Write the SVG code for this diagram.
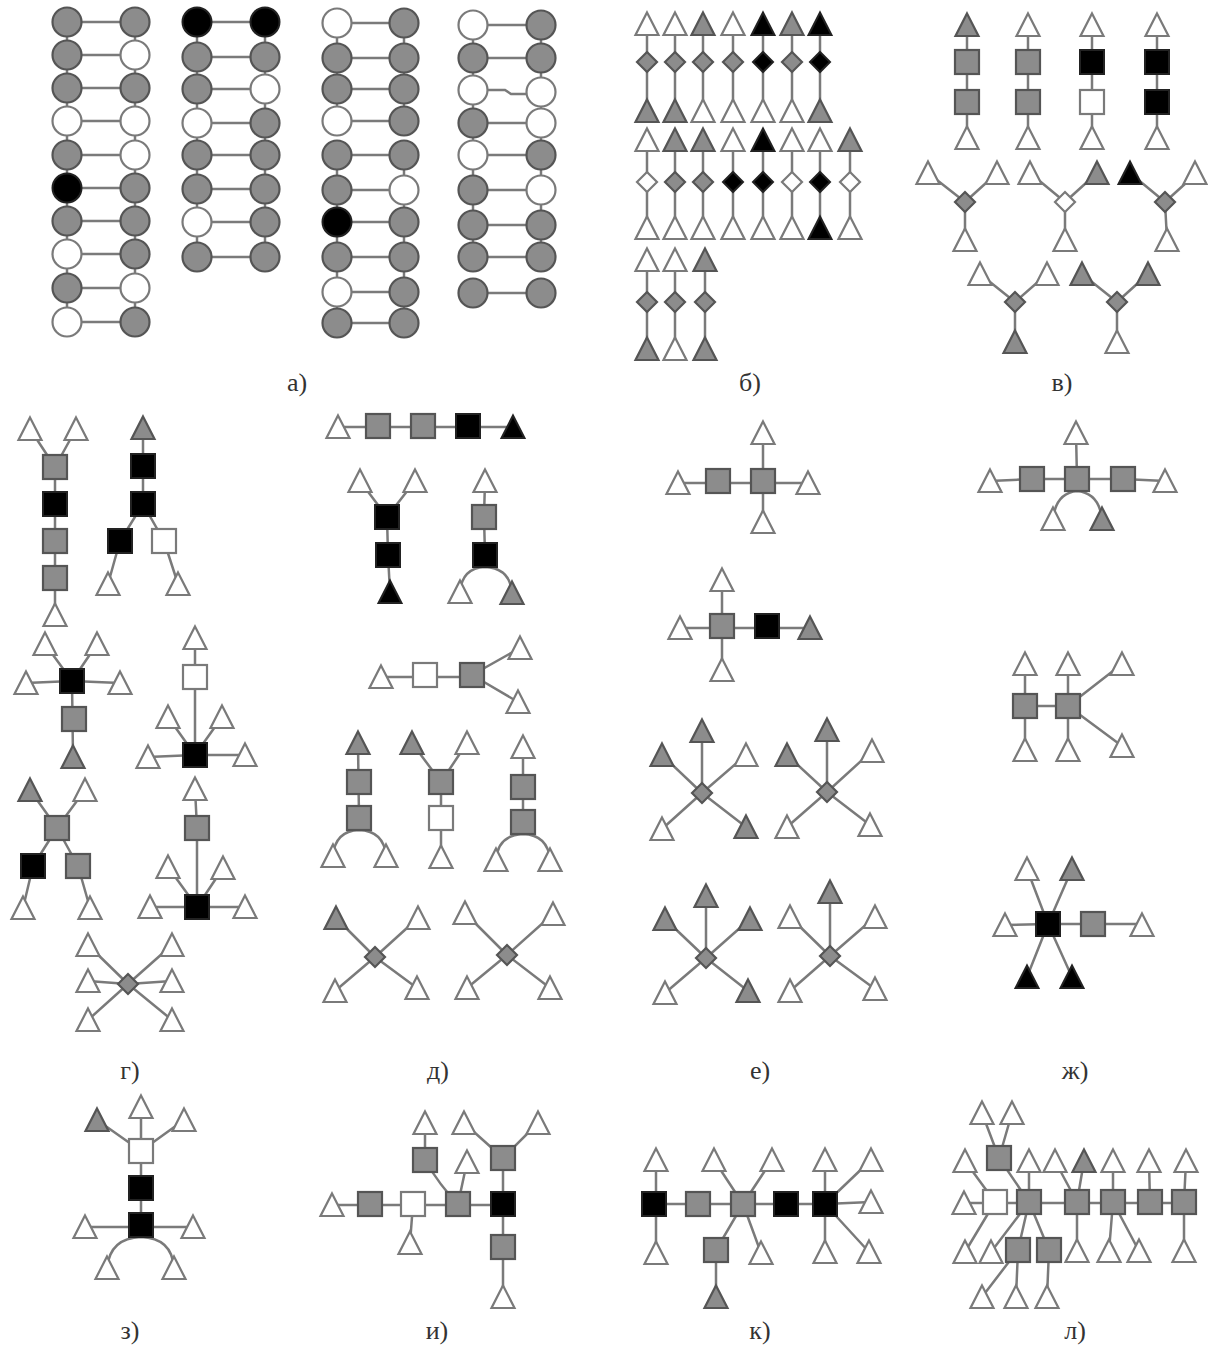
<svg xmlns="http://www.w3.org/2000/svg" xmlns:xlink="http://www.w3.org/1999/xlink" width="1208" height="1348" viewBox="0 0 1208 1348">
<style>
.w{fill:#fff;stroke:#7a7a7a;stroke-width:2.2}
.g{fill:#8c8c8c;stroke:#555;stroke-width:2.2}
.b{fill:#000;stroke:#222;stroke-width:2}
.c path{stroke:#7a7a7a;stroke-width:2.5;fill:none}
.lbl{font-family:"Liberation Serif","Times New Roman",serif;font-size:26px;fill:#333;text-anchor:middle}
</style>
<defs>
<circle id="C" r="14.5"/>
<path id="T" d="M0,-11.5 L11.5,11 L-11.5,11 Z"/>
<rect id="S" x="-12" y="-12" width="24" height="24"/>
<path id="D" d="M0,-10 L10,0 L0,10 L-10,0 Z"/>
</defs>
<rect width="1208" height="1348" fill="#fff"/>

<g id="connectors" class="c">
<!-- a) -->
<path d="M67,22V322"/><path d="M135,22V322"/>
<path d="M67,22H135"/><path d="M67,55H135"/><path d="M67,88H135"/><path d="M67,121H135"/><path d="M67,155H135"/><path d="M67,188H135"/><path d="M67,221H135"/><path d="M67,254H135"/><path d="M67,288H135"/><path d="M67,322H135"/>
<path d="M197,22V257"/><path d="M265,22V257"/>
<path d="M197,22H265"/><path d="M197,57H265"/><path d="M197,89H265"/><path d="M197,123H265"/><path d="M197,155H265"/><path d="M197,189H265"/><path d="M197,222H265"/><path d="M197,257H265"/>
<path d="M337,23V121"/><path d="M404,23V121"/><path d="M337,155V323"/><path d="M404,155V323"/>
<path d="M337,23H404"/><path d="M337,58H404"/><path d="M337,89H404"/><path d="M337,121H404"/><path d="M337,155H404"/><path d="M337,190H404"/><path d="M337,222H404"/><path d="M337,257H404"/><path d="M337,292H404"/><path d="M337,323H404"/>
<path d="M473,25V257"/><path d="M541,25V257"/>
<path d="M473,25H541"/><path d="M473,58H541"/><path d="M473,90H505L511,94H541"/><path d="M473,123H541"/><path d="M473,155H541"/><path d="M473,190H541"/><path d="M473,225H541"/><path d="M473,257H541"/><path d="M473,293H541"/>
<!-- б) -->
<path d="M647,24V111"/><path d="M675,24V111"/><path d="M703,24V111"/><path d="M733,24V111"/><path d="M763,24V111"/><path d="M792,24V111"/><path d="M820,24V111"/>
<path d="M647,140V228"/><path d="M675,140V228"/><path d="M703,140V228"/><path d="M733,140V228"/><path d="M763,140V228"/><path d="M792,140V228"/><path d="M820,140V228"/><path d="M850,140V228"/>
<path d="M647,260V349"/><path d="M675,260V349"/><path d="M705,260V349"/>
<!-- в) -->
<path d="M967,25V138"/><path d="M1028,25V138"/><path d="M1092,25V138"/><path d="M1157,25V138"/>
<path d="M965,202L928,173M965,202L997,173M965,202V240"/>
<path d="M1065,202L1030,173M1065,202L1097,173M1065,202V240"/>
<path d="M1165,202L1130,173M1165,202L1197,173M1165,202L1167,240"/>
<path d="M1015,302L980,274M1015,302L1047,274M1015,302V342"/>
<path d="M1117,302L1082,274M1117,302L1148,274M1117,302V342"/>
<!-- г) -->
<path d="M55,467L30,429M55,467L76,429M55,467V615"/>
<path d="M143,428V504M143,504L120,541M143,504L164,541M120,541L108,584M164,541L178,584"/>
<path d="M72,681L45,644M72,681L97,644M72,681L26,683M72,681L120,683M72,681L73,757"/>
<path d="M195,638V755M195,755L168,717M195,755L222,717M195,755L148,757M195,755L245,755"/>
<path d="M57,828L30,790M57,828L85,790M57,828L33,866M57,828L78,866M33,866L23,908M78,866L90,908"/>
<path d="M195,789L197,828V907M197,907L168,867M197,907L223,868M197,907L150,907M197,907L245,907"/>
<path d="M128,984L88,945M128,984L88,981M128,984L88,1020M128,984L172,945M128,984L172,981M128,984L172,1020"/>
<!-- д) -->
<path d="M338,427H513"/>
<path d="M387,517L360,481M387,517L415,481M387,517L388,555L390,592"/>
<path d="M485,481L484,517L485,555"/><path d="M460,592Q462,568 485,567Q510,568 512,593"/>
<path d="M381,677H472M472,675L520,648M472,675L518,702"/>
<path d="M358,743L359,818"/><path d="M333,856Q335,831 359,830Q384,831 386,856"/>
<path d="M441,782L412,743M441,782L467,743M441,782V857"/>
<path d="M523,747V822"/><path d="M496,860Q498,835 523,834Q548,835 550,860"/>
<path d="M375,957L336,918M375,957L418,918M375,957L335,991M375,957L417,988"/>
<path d="M507,955L465,913M507,955L553,914M507,955L467,988M507,955L550,988"/>
<!-- е) -->
<path d="M678,483H808M763,433V522"/>
<path d="M722,580V670M680,628H810"/>
<path d="M702,793V731M702,793L662,755M702,793L746,755M702,793L662,829M702,793L746,827"/>
<path d="M827,792V730M827,792L787,755M827,792L872,751M827,792L787,827M827,792L870,825"/>
<path d="M706,958V896M706,958L665,919M706,958L750,919M706,958L665,993M706,958L748,991"/>
<path d="M830,956V892M830,956L790,917M830,956L875,917M830,956L790,991M830,956L875,989"/>
<!-- ж) -->
<path d="M990,481L1032,479H1123L1165,481M1077,479L1076,433"/><path d="M1053,519Q1056,493 1077,491Q1099,493 1102,519"/>
<path d="M1025,664V750M1068,664V750M1025,706H1068M1068,706L1122,664M1068,706L1122,746"/>
<path d="M1005,925L1048,924H1142M1048,924L1027,869M1048,924L1072,869M1048,924L1027,977M1048,924L1072,977"/>
<!-- з) -->
<path d="M141,1151L97,1120M141,1151V1107M141,1151L184,1120M141,1151V1225M85,1227H193"/><path d="M107,1268Q110,1238 141,1237Q172,1238 174,1268"/>
<!-- и) -->
<path d="M332,1205H503M413,1204L410,1243M425,1160V1123M458,1204L467,1162M503,1158V1297M503,1158L464,1123M503,1158L538,1123"/><path d="M425,1160Q440,1186 458,1204"/>
<!-- к) -->
<path d="M654,1204H825M656,1160V1253M743,1204L714,1160M743,1204L772,1160M743,1204L716,1250V1297M743,1204L761,1253M825,1160V1252M825,1204L871,1160M825,1204L871,1202M825,1204L869,1252"/>
<!-- л) -->
<path d="M999,1158L982,1113M999,1158L1012,1113M999,1158L1029,1202"/>
<path d="M965,1161L995,1202M964,1203H1184M995,1202L965,1252"/>
<path d="M1029,1202V1161M1029,1202L991,1252M1029,1202L1018,1250M1029,1202L1049,1250M1018,1250L982,1297M1018,1250L1016,1297M1049,1250L1047,1297"/>
<path d="M1077,1202L1055,1161M1077,1202L1084,1161M1077,1202V1251M1113,1202V1161M1113,1202L1109,1251M1113,1202L1139,1251M1150,1202L1149,1161M1184,1202L1186,1161M1184,1202V1251"/>
</g>

<g id="panel-a">
<g id="a1-1L" class="g"><use href="#C" x="67" y="22"/></g><g id="a1-1R" class="g"><use href="#C" x="135" y="22"/></g>
<g id="a1-2L" class="g"><use href="#C" x="67" y="55"/></g><g id="a1-2R" class="w"><use href="#C" x="135" y="55"/></g>
<g id="a1-3L" class="g"><use href="#C" x="67" y="88"/></g><g id="a1-3R" class="g"><use href="#C" x="135" y="88"/></g>
<g id="a1-4L" class="w"><use href="#C" x="67" y="121"/></g><g id="a1-4R" class="w"><use href="#C" x="135" y="121"/></g>
<g id="a1-5L" class="g"><use href="#C" x="67" y="155"/></g><g id="a1-5R" class="w"><use href="#C" x="135" y="155"/></g>
<g id="a1-6L" class="b"><use href="#C" x="67" y="188"/></g><g id="a1-6R" class="g"><use href="#C" x="135" y="188"/></g>
<g id="a1-7L" class="g"><use href="#C" x="67" y="221"/></g><g id="a1-7R" class="g"><use href="#C" x="135" y="221"/></g>
<g id="a1-8L" class="w"><use href="#C" x="67" y="254"/></g><g id="a1-8R" class="g"><use href="#C" x="135" y="254"/></g>
<g id="a1-9L" class="g"><use href="#C" x="67" y="288"/></g><g id="a1-9R" class="w"><use href="#C" x="135" y="288"/></g>
<g id="a1-10L" class="w"><use href="#C" x="67" y="322"/></g><g id="a1-10R" class="g"><use href="#C" x="135" y="322"/></g>

<g id="a2-1L" class="b"><use href="#C" x="197" y="22"/></g><g id="a2-1R" class="b"><use href="#C" x="265" y="22"/></g>
<g id="a2-2L" class="g"><use href="#C" x="197" y="57"/></g><g id="a2-2R" class="g"><use href="#C" x="265" y="57"/></g>
<g id="a2-3L" class="g"><use href="#C" x="197" y="89"/></g><g id="a2-3R" class="w"><use href="#C" x="265" y="89"/></g>
<g id="a2-4L" class="w"><use href="#C" x="197" y="123"/></g><g id="a2-4R" class="g"><use href="#C" x="265" y="123"/></g>
<g id="a2-5L" class="g"><use href="#C" x="197" y="155"/></g><g id="a2-5R" class="g"><use href="#C" x="265" y="155"/></g>
<g id="a2-6L" class="g"><use href="#C" x="197" y="189"/></g><g id="a2-6R" class="g"><use href="#C" x="265" y="189"/></g>
<g id="a2-7L" class="w"><use href="#C" x="197" y="222"/></g><g id="a2-7R" class="g"><use href="#C" x="265" y="222"/></g>
<g id="a2-8L" class="g"><use href="#C" x="197" y="257"/></g><g id="a2-8R" class="g"><use href="#C" x="265" y="257"/></g>

<g id="a3-1L" class="w"><use href="#C" x="337" y="23"/></g><g id="a3-1R" class="g"><use href="#C" x="404" y="23"/></g>
<g id="a3-2L" class="g"><use href="#C" x="337" y="58"/></g><g id="a3-2R" class="g"><use href="#C" x="404" y="58"/></g>
<g id="a3-3L" class="g"><use href="#C" x="337" y="89"/></g><g id="a3-3R" class="g"><use href="#C" x="404" y="89"/></g>
<g id="a3-4L" class="w"><use href="#C" x="337" y="121"/></g><g id="a3-4R" class="g"><use href="#C" x="404" y="121"/></g>
<g id="a3-5L" class="g"><use href="#C" x="337" y="155"/></g><g id="a3-5R" class="g"><use href="#C" x="404" y="155"/></g>
<g id="a3-6L" class="g"><use href="#C" x="337" y="190"/></g><g id="a3-6R" class="w"><use href="#C" x="404" y="190"/></g>
<g id="a3-7L" class="b"><use href="#C" x="337" y="222"/></g><g id="a3-7R" class="g"><use href="#C" x="404" y="222"/></g>
<g id="a3-8L" class="g"><use href="#C" x="337" y="257"/></g><g id="a3-8R" class="g"><use href="#C" x="404" y="257"/></g>
<g id="a3-9L" class="w"><use href="#C" x="337" y="292"/></g><g id="a3-9R" class="g"><use href="#C" x="404" y="292"/></g>
<g id="a3-10L" class="g"><use href="#C" x="337" y="323"/></g><g id="a3-10R" class="g"><use href="#C" x="404" y="323"/></g>

<g id="a4-1L" class="w"><use href="#C" x="473" y="25"/></g><g id="a4-1R" class="g"><use href="#C" x="541" y="25"/></g>
<g id="a4-2L" class="g"><use href="#C" x="473" y="58"/></g><g id="a4-2R" class="g"><use href="#C" x="541" y="58"/></g>
<g id="a4-3L" class="w"><use href="#C" x="473" y="90"/></g><g id="a4-3R" class="w"><use href="#C" x="541" y="92"/></g>
<g id="a4-4L" class="g"><use href="#C" x="473" y="123"/></g><g id="a4-4R" class="w"><use href="#C" x="541" y="123"/></g>
<g id="a4-5L" class="w"><use href="#C" x="473" y="155"/></g><g id="a4-5R" class="g"><use href="#C" x="541" y="155"/></g>
<g id="a4-6L" class="g"><use href="#C" x="473" y="190"/></g><g id="a4-6R" class="w"><use href="#C" x="541" y="190"/></g>
<g id="a4-7L" class="g"><use href="#C" x="473" y="225"/></g><g id="a4-7R" class="g"><use href="#C" x="541" y="225"/></g>
<g id="a4-8L" class="g"><use href="#C" x="473" y="257"/></g><g id="a4-8R" class="g"><use href="#C" x="541" y="257"/></g>
<g id="a4-9L" class="g"><use href="#C" x="473" y="293"/></g><g id="a4-9R" class="g"><use href="#C" x="541" y="293"/></g>
</g>

<g id="panel-b">
<g id="b1-1t" class="w"><use href="#T" x="647" y="24"/></g><g id="b1-1d" class="g"><use href="#D" x="647" y="62"/></g><g id="b1-1b" class="g"><use href="#T" x="647" y="111"/></g>
<g id="b1-2t" class="w"><use href="#T" x="675" y="24"/></g><g id="b1-2d" class="g"><use href="#D" x="675" y="62"/></g><g id="b1-2b" class="g"><use href="#T" x="675" y="111"/></g>
<g id="b1-3t" class="g"><use href="#T" x="703" y="24"/></g><g id="b1-3d" class="g"><use href="#D" x="703" y="62"/></g><g id="b1-3b" class="w"><use href="#T" x="703" y="111"/></g>
<g id="b1-4t" class="w"><use href="#T" x="733" y="24"/></g><g id="b1-4d" class="g"><use href="#D" x="733" y="62"/></g><g id="b1-4b" class="w"><use href="#T" x="733" y="111"/></g>
<g id="b1-5t" class="b"><use href="#T" x="763" y="24"/></g><g id="b1-5d" class="b"><use href="#D" x="763" y="62"/></g><g id="b1-5b" class="w"><use href="#T" x="763" y="111"/></g>
<g id="b1-6t" class="g"><use href="#T" x="792" y="24"/></g><g id="b1-6d" class="g"><use href="#D" x="792" y="62"/></g><g id="b1-6b" class="w"><use href="#T" x="792" y="111"/></g>
<g id="b1-7t" class="b"><use href="#T" x="820" y="24"/></g><g id="b1-7d" class="b"><use href="#D" x="820" y="62"/></g><g id="b1-7b" class="g"><use href="#T" x="820" y="111"/></g>

<g id="b2-1t" class="w"><use href="#T" x="647" y="140"/></g><g id="b2-1d" class="w"><use href="#D" x="647" y="182"/></g><g id="b2-1b" class="w"><use href="#T" x="647" y="228"/></g>
<g id="b2-2t" class="g"><use href="#T" x="675" y="140"/></g><g id="b2-2d" class="g"><use href="#D" x="675" y="182"/></g><g id="b2-2b" class="w"><use href="#T" x="675" y="228"/></g>
<g id="b2-3t" class="g"><use href="#T" x="703" y="140"/></g><g id="b2-3d" class="g"><use href="#D" x="703" y="182"/></g><g id="b2-3b" class="w"><use href="#T" x="703" y="228"/></g>
<g id="b2-4t" class="w"><use href="#T" x="733" y="140"/></g><g id="b2-4d" class="b"><use href="#D" x="733" y="182"/></g><g id="b2-4b" class="w"><use href="#T" x="733" y="228"/></g>
<g id="b2-5t" class="b"><use href="#T" x="763" y="140"/></g><g id="b2-5d" class="b"><use href="#D" x="763" y="182"/></g><g id="b2-5b" class="w"><use href="#T" x="763" y="228"/></g>
<g id="b2-6t" class="w"><use href="#T" x="792" y="140"/></g><g id="b2-6d" class="w"><use href="#D" x="792" y="182"/></g><g id="b2-6b" class="w"><use href="#T" x="792" y="228"/></g>
<g id="b2-7t" class="w"><use href="#T" x="820" y="140"/></g><g id="b2-7d" class="b"><use href="#D" x="820" y="182"/></g><g id="b2-7b" class="b"><use href="#T" x="820" y="228"/></g>
<g id="b2-8t" class="g"><use href="#T" x="850" y="140"/></g><g id="b2-8d" class="w"><use href="#D" x="850" y="182"/></g><g id="b2-8b" class="w"><use href="#T" x="850" y="228"/></g>

<g id="b3-1t" class="w"><use href="#T" x="647" y="260"/></g><g id="b3-1d" class="g"><use href="#D" x="647" y="302"/></g><g id="b3-1b" class="g"><use href="#T" x="647" y="349"/></g>
<g id="b3-2t" class="w"><use href="#T" x="675" y="260"/></g><g id="b3-2d" class="g"><use href="#D" x="675" y="302"/></g><g id="b3-2b" class="w"><use href="#T" x="675" y="349"/></g>
<g id="b3-3t" class="g"><use href="#T" x="705" y="260"/></g><g id="b3-3d" class="g"><use href="#D" x="705" y="302"/></g><g id="b3-3b" class="g"><use href="#T" x="705" y="349"/></g>
</g>

<g id="panel-v">
<g id="v1-t1" class="g"><use href="#T" x="967" y="25"/></g><g id="v1-s1" class="g"><use href="#S" x="967" y="62"/></g><g id="v1-s2" class="g"><use href="#S" x="967" y="102"/></g><g id="v1-t2" class="w"><use href="#T" x="967" y="138"/></g>
<g id="v2-t1" class="w"><use href="#T" x="1028" y="25"/></g><g id="v2-s1" class="g"><use href="#S" x="1028" y="62"/></g><g id="v2-s2" class="g"><use href="#S" x="1028" y="102"/></g><g id="v2-t2" class="w"><use href="#T" x="1028" y="138"/></g>
<g id="v3-t1" class="w"><use href="#T" x="1092" y="25"/></g><g id="v3-s1" class="b"><use href="#S" x="1092" y="62"/></g><g id="v3-s2" class="w"><use href="#S" x="1092" y="102"/></g><g id="v3-t2" class="w"><use href="#T" x="1092" y="138"/></g>
<g id="v4-t1" class="w"><use href="#T" x="1157" y="25"/></g><g id="v4-s1" class="b"><use href="#S" x="1157" y="62"/></g><g id="v4-s2" class="b"><use href="#S" x="1157" y="102"/></g><g id="v4-t2" class="w"><use href="#T" x="1157" y="138"/></g>
<g id="v5-d" class="g"><use href="#D" x="965" y="202"/></g><g id="v5-t1" class="w"><use href="#T" x="928" y="173"/></g><g id="v5-t2" class="w"><use href="#T" x="997" y="173"/></g><g id="v5-t3" class="w"><use href="#T" x="965" y="240"/></g>
<g id="v6-d" class="w"><use href="#D" x="1065" y="202"/></g><g id="v6-t1" class="w"><use href="#T" x="1030" y="173"/></g><g id="v6-t2" class="g"><use href="#T" x="1097" y="173"/></g><g id="v6-t3" class="w"><use href="#T" x="1065" y="240"/></g>
<g id="v7-d" class="g"><use href="#D" x="1165" y="202"/></g><g id="v7-t1" class="b"><use href="#T" x="1130" y="173"/></g><g id="v7-t2" class="w"><use href="#T" x="1195" y="173"/></g><g id="v7-t3" class="w"><use href="#T" x="1167" y="240"/></g>
<g id="v8-d" class="g"><use href="#D" x="1015" y="302"/></g><g id="v8-t1" class="w"><use href="#T" x="980" y="274"/></g><g id="v8-t2" class="w"><use href="#T" x="1047" y="274"/></g><g id="v8-t3" class="g"><use href="#T" x="1015" y="342"/></g>
<g id="v9-d" class="g"><use href="#D" x="1117" y="302"/></g><g id="v9-t1" class="g"><use href="#T" x="1082" y="274"/></g><g id="v9-t2" class="g"><use href="#T" x="1148" y="274"/></g><g id="v9-t3" class="w"><use href="#T" x="1117" y="342"/></g>
</g>

<g id="panel-g">
<g id="g1-t1" class="w"><use href="#T" x="30" y="429"/></g><g id="g1-t2" class="w"><use href="#T" x="76" y="429"/></g><g id="g1-s1" class="g"><use href="#S" x="55" y="467"/></g><g id="g1-s2" class="b"><use href="#S" x="55" y="504"/></g><g id="g1-s3" class="g"><use href="#S" x="55" y="541"/></g><g id="g1-s4" class="g"><use href="#S" x="55" y="578"/></g><g id="g1-t3" class="w"><use href="#T" x="55" y="615"/></g>
<g id="g2-t1" class="g"><use href="#T" x="143" y="428"/></g><g id="g2-s1" class="b"><use href="#S" x="143" y="466"/></g><g id="g2-s2" class="b"><use href="#S" x="143" y="504"/></g><g id="g2-s3" class="b"><use href="#S" x="120" y="541"/></g><g id="g2-s4" class="w"><use href="#S" x="164" y="541"/></g><g id="g2-t2" class="w"><use href="#T" x="108" y="584"/></g><g id="g2-t3" class="w"><use href="#T" x="178" y="584"/></g>
<g id="g3-s1" class="b"><use href="#S" x="72" y="681"/></g><g id="g3-t1" class="w"><use href="#T" x="45" y="644"/></g><g id="g3-t2" class="w"><use href="#T" x="97" y="644"/></g><g id="g3-t3" class="w"><use href="#T" x="26" y="683"/></g><g id="g3-t4" class="w"><use href="#T" x="120" y="683"/></g><g id="g3-s2" class="g"><use href="#S" x="74" y="719"/></g><g id="g3-t5" class="g"><use href="#T" x="73" y="757"/></g>
<g id="g4-t1" class="w"><use href="#T" x="195" y="638"/></g><g id="g4-s1" class="w"><use href="#S" x="195" y="677"/></g><g id="g4-s2" class="b"><use href="#S" x="195" y="755"/></g><g id="g4-t2" class="w"><use href="#T" x="168" y="717"/></g><g id="g4-t3" class="w"><use href="#T" x="222" y="717"/></g><g id="g4-t4" class="w"><use href="#T" x="148" y="757"/></g><g id="g4-t5" class="w"><use href="#T" x="245" y="755"/></g>
<g id="g5-t1" class="g"><use href="#T" x="30" y="790"/></g><g id="g5-t2" class="w"><use href="#T" x="85" y="790"/></g><g id="g5-s1" class="g"><use href="#S" x="57" y="828"/></g><g id="g5-s2" class="b"><use href="#S" x="33" y="866"/></g><g id="g5-s3" class="g"><use href="#S" x="78" y="866"/></g><g id="g5-t3" class="w"><use href="#T" x="23" y="908"/></g><g id="g5-t4" class="w"><use href="#T" x="90" y="908"/></g>
<g id="g6-t1" class="w"><use href="#T" x="195" y="789"/></g><g id="g6-s1" class="g"><use href="#S" x="197" y="828"/></g><g id="g6-s2" class="b"><use href="#S" x="197" y="907"/></g><g id="g6-t2" class="w"><use href="#T" x="168" y="867"/></g><g id="g6-t3" class="w"><use href="#T" x="223" y="868"/></g><g id="g6-t4" class="w"><use href="#T" x="150" y="907"/></g><g id="g6-t5" class="w"><use href="#T" x="245" y="907"/></g>
<g id="g7-d" class="g"><use href="#D" x="128" y="984"/></g><g id="g7-t1" class="w"><use href="#T" x="88" y="945"/></g><g id="g7-t2" class="w"><use href="#T" x="88" y="981"/></g><g id="g7-t3" class="w"><use href="#T" x="88" y="1020"/></g><g id="g7-t4" class="w"><use href="#T" x="172" y="945"/></g><g id="g7-t5" class="w"><use href="#T" x="172" y="981"/></g><g id="g7-t6" class="w"><use href="#T" x="172" y="1020"/></g>
</g>

<g id="panel-d">
<g id="d1-t1" class="w"><use href="#T" x="338" y="427"/></g><g id="d1-s1" class="g"><use href="#S" x="378" y="426"/></g><g id="d1-s2" class="g"><use href="#S" x="423" y="426"/></g><g id="d1-s3" class="b"><use href="#S" x="468" y="426"/></g><g id="d1-t2" class="b"><use href="#T" x="513" y="427"/></g>
<g id="d2-t1" class="w"><use href="#T" x="360" y="481"/></g><g id="d2-t2" class="w"><use href="#T" x="415" y="481"/></g><g id="d2-s1" class="b"><use href="#S" x="387" y="517"/></g><g id="d2-s2" class="b"><use href="#S" x="388" y="555"/></g><g id="d2-t3" class="b"><use href="#T" x="390" y="592"/></g>
<g id="d3-t1" class="w"><use href="#T" x="485" y="481"/></g><g id="d3-s1" class="g"><use href="#S" x="484" y="517"/></g><g id="d3-s2" class="b"><use href="#S" x="485" y="555"/></g><g id="d3-t2" class="w"><use href="#T" x="460" y="592"/></g><g id="d3-t3" class="g"><use href="#T" x="512" y="593"/></g>
<g id="d4-t1" class="w"><use href="#T" x="381" y="677"/></g><g id="d4-s1" class="w"><use href="#S" x="425" y="675"/></g><g id="d4-s2" class="g"><use href="#S" x="472" y="675"/></g><g id="d4-t2" class="w"><use href="#T" x="520" y="648"/></g><g id="d4-t3" class="w"><use href="#T" x="518" y="702"/></g>
<g id="d5-t1" class="g"><use href="#T" x="358" y="743"/></g><g id="d5-s1" class="g"><use href="#S" x="359" y="782"/></g><g id="d5-s2" class="g"><use href="#S" x="359" y="818"/></g><g id="d5-t2" class="w"><use href="#T" x="333" y="856"/></g><g id="d5-t3" class="w"><use href="#T" x="386" y="856"/></g>
<g id="d6-t1" class="g"><use href="#T" x="412" y="743"/></g><g id="d6-t2" class="w"><use href="#T" x="467" y="743"/></g><g id="d6-s1" class="g"><use href="#S" x="441" y="782"/></g><g id="d6-s2" class="w"><use href="#S" x="441" y="818"/></g><g id="d6-t3" class="w"><use href="#T" x="441" y="857"/></g>
<g id="d7-t1" class="w"><use href="#T" x="523" y="747"/></g><g id="d7-s1" class="g"><use href="#S" x="523" y="787"/></g><g id="d7-s2" class="g"><use href="#S" x="523" y="822"/></g><g id="d7-t2" class="w"><use href="#T" x="496" y="860"/></g><g id="d7-t3" class="w"><use href="#T" x="550" y="860"/></g>
<g id="d8-d" class="g"><use href="#D" x="375" y="957"/></g><g id="d8-t1" class="g"><use href="#T" x="336" y="918"/></g><g id="d8-t2" class="w"><use href="#T" x="418" y="918"/></g><g id="d8-t3" class="w"><use href="#T" x="335" y="991"/></g><g id="d8-t4" class="w"><use href="#T" x="417" y="988"/></g>
<g id="d9-d" class="g"><use href="#D" x="507" y="955"/></g><g id="d9-t1" class="w"><use href="#T" x="465" y="913"/></g><g id="d9-t2" class="w"><use href="#T" x="553" y="914"/></g><g id="d9-t3" class="w"><use href="#T" x="467" y="988"/></g><g id="d9-t4" class="w"><use href="#T" x="550" y="988"/></g>
</g>

<g id="panel-e">
<g id="e1-t1" class="w"><use href="#T" x="678" y="483"/></g><g id="e1-s1" class="g"><use href="#S" x="718" y="481"/></g><g id="e1-s2" class="g"><use href="#S" x="763" y="481"/></g><g id="e1-t2" class="w"><use href="#T" x="763" y="433"/></g><g id="e1-t3" class="w"><use href="#T" x="763" y="522"/></g><g id="e1-t4" class="w"><use href="#T" x="808" y="483"/></g>
<g id="e2-t1" class="w"><use href="#T" x="722" y="580"/></g><g id="e2-t2" class="w"><use href="#T" x="680" y="628"/></g><g id="e2-s1" class="g"><use href="#S" x="722" y="626"/></g><g id="e2-s2" class="b"><use href="#S" x="767" y="626"/></g><g id="e2-t3" class="g"><use href="#T" x="810" y="628"/></g><g id="e2-t4" class="w"><use href="#T" x="722" y="670"/></g>
<g id="e3-d" class="g"><use href="#D" x="702" y="793"/></g><g id="e3-t1" class="g"><use href="#T" x="702" y="731"/></g><g id="e3-t2" class="g"><use href="#T" x="662" y="755"/></g><g id="e3-t3" class="w"><use href="#T" x="746" y="755"/></g><g id="e3-t4" class="w"><use href="#T" x="662" y="829"/></g><g id="e3-t5" class="g"><use href="#T" x="746" y="827"/></g>
<g id="e4-d" class="g"><use href="#D" x="827" y="792"/></g><g id="e4-t1" class="g"><use href="#T" x="827" y="730"/></g><g id="e4-t2" class="g"><use href="#T" x="787" y="755"/></g><g id="e4-t3" class="w"><use href="#T" x="872" y="751"/></g><g id="e4-t4" class="w"><use href="#T" x="787" y="827"/></g><g id="e4-t5" class="w"><use href="#T" x="870" y="825"/></g>
<g id="e5-d" class="g"><use href="#D" x="706" y="958"/></g><g id="e5-t1" class="g"><use href="#T" x="706" y="896"/></g><g id="e5-t2" class="g"><use href="#T" x="665" y="919"/></g><g id="e5-t3" class="g"><use href="#T" x="750" y="919"/></g><g id="e5-t4" class="w"><use href="#T" x="665" y="993"/></g><g id="e5-t5" class="g"><use href="#T" x="748" y="991"/></g>
<g id="e6-d" class="g"><use href="#D" x="830" y="956"/></g><g id="e6-t1" class="g"><use href="#T" x="830" y="892"/></g><g id="e6-t2" class="w"><use href="#T" x="790" y="917"/></g><g id="e6-t3" class="w"><use href="#T" x="875" y="917"/></g><g id="e6-t4" class="w"><use href="#T" x="790" y="991"/></g><g id="e6-t5" class="w"><use href="#T" x="875" y="989"/></g>
</g>

<g id="panel-zh">
<g id="zh1-t1" class="w"><use href="#T" x="990" y="481"/></g><g id="zh1-s1" class="g"><use href="#S" x="1032" y="479"/></g><g id="zh1-s2" class="g"><use href="#S" x="1077" y="479"/></g><g id="zh1-s3" class="g"><use href="#S" x="1123" y="479"/></g><g id="zh1-t2" class="w"><use href="#T" x="1165" y="481"/></g><g id="zh1-t3" class="w"><use href="#T" x="1076" y="433"/></g><g id="zh1-t4" class="w"><use href="#T" x="1053" y="519"/></g><g id="zh1-t5" class="g"><use href="#T" x="1102" y="519"/></g>
<g id="zh2-t1" class="w"><use href="#T" x="1025" y="664"/></g><g id="zh2-t2" class="w"><use href="#T" x="1068" y="664"/></g><g id="zh2-s1" class="g"><use href="#S" x="1025" y="706"/></g><g id="zh2-s2" class="g"><use href="#S" x="1068" y="706"/></g><g id="zh2-t3" class="w"><use href="#T" x="1025" y="750"/></g><g id="zh2-t4" class="w"><use href="#T" x="1068" y="750"/></g><g id="zh2-t5" class="w"><use href="#T" x="1122" y="664"/></g><g id="zh2-t6" class="w"><use href="#T" x="1122" y="746"/></g>
<g id="zh3-s1" class="b"><use href="#S" x="1048" y="924"/></g><g id="zh3-s2" class="g"><use href="#S" x="1093" y="924"/></g><g id="zh3-t1" class="w"><use href="#T" x="1142" y="925"/></g><g id="zh3-t2" class="w"><use href="#T" x="1005" y="925"/></g><g id="zh3-t3" class="w"><use href="#T" x="1027" y="869"/></g><g id="zh3-t4" class="g"><use href="#T" x="1072" y="869"/></g><g id="zh3-t5" class="b"><use href="#T" x="1027" y="977"/></g><g id="zh3-t6" class="b"><use href="#T" x="1072" y="977"/></g>
</g>

<g id="panel-z">
<g id="z-t1" class="g"><use href="#T" x="97" y="1120"/></g><g id="z-t2" class="w"><use href="#T" x="141" y="1107"/></g><g id="z-t3" class="w"><use href="#T" x="184" y="1120"/></g><g id="z-s1" class="w"><use href="#S" x="141" y="1151"/></g><g id="z-s2" class="b"><use href="#S" x="141" y="1188"/></g><g id="z-s3" class="b"><use href="#S" x="141" y="1225"/></g><g id="z-t4" class="w"><use href="#T" x="85" y="1227"/></g><g id="z-t5" class="w"><use href="#T" x="193" y="1227"/></g><g id="z-t6" class="w"><use href="#T" x="107" y="1268"/></g><g id="z-t7" class="w"><use href="#T" x="174" y="1268"/></g>
</g>

<g id="panel-i">
<g id="i-t1" class="w"><use href="#T" x="332" y="1205"/></g><g id="i-s1" class="g"><use href="#S" x="370" y="1204"/></g><g id="i-s2" class="w"><use href="#S" x="413" y="1204"/></g><g id="i-s3" class="g"><use href="#S" x="458" y="1204"/></g><g id="i-s4" class="b"><use href="#S" x="503" y="1204"/></g><g id="i-s5" class="g"><use href="#S" x="503" y="1247"/></g><g id="i-t2" class="w"><use href="#T" x="503" y="1297"/></g><g id="i-t3" class="w"><use href="#T" x="410" y="1243"/></g><g id="i-s6" class="g"><use href="#S" x="425" y="1160"/></g><g id="i-t4" class="w"><use href="#T" x="425" y="1123"/></g><g id="i-t5" class="w"><use href="#T" x="467" y="1162"/></g><g id="i-t6" class="w"><use href="#T" x="464" y="1123"/></g><g id="i-s7" class="g"><use href="#S" x="503" y="1158"/></g><g id="i-t7" class="w"><use href="#T" x="538" y="1123"/></g>
</g>

<g id="panel-k">
<g id="k-s1" class="b"><use href="#S" x="654" y="1204"/></g><g id="k-s2" class="g"><use href="#S" x="698" y="1204"/></g><g id="k-s3" class="g"><use href="#S" x="743" y="1204"/></g><g id="k-s4" class="b"><use href="#S" x="786" y="1204"/></g><g id="k-s5" class="b"><use href="#S" x="825" y="1204"/></g>
<g id="k-t1" class="w"><use href="#T" x="656" y="1160"/></g><g id="k-t2" class="w"><use href="#T" x="656" y="1253"/></g><g id="k-t3" class="w"><use href="#T" x="714" y="1160"/></g><g id="k-t4" class="w"><use href="#T" x="772" y="1160"/></g><g id="k-s6" class="g"><use href="#S" x="716" y="1250"/></g><g id="k-t5" class="g"><use href="#T" x="716" y="1297"/></g><g id="k-t6" class="w"><use href="#T" x="761" y="1253"/></g><g id="k-t7" class="w"><use href="#T" x="825" y="1160"/></g><g id="k-t8" class="w"><use href="#T" x="871" y="1160"/></g><g id="k-t9" class="w"><use href="#T" x="871" y="1202"/></g><g id="k-t10" class="w"><use href="#T" x="825" y="1252"/></g><g id="k-t11" class="w"><use href="#T" x="869" y="1252"/></g>
</g>

<g id="panel-l">
<g id="l-t1" class="w"><use href="#T" x="982" y="1113"/></g><g id="l-t2" class="w"><use href="#T" x="1012" y="1113"/></g><g id="l-s1" class="g"><use href="#S" x="999" y="1158"/></g>
<g id="l-t3" class="w"><use href="#T" x="965" y="1161"/></g><g id="l-t4" class="w"><use href="#T" x="1029" y="1161"/></g><g id="l-t5" class="w"><use href="#T" x="1055" y="1161"/></g><g id="l-t6" class="g"><use href="#T" x="1084" y="1161"/></g><g id="l-t7" class="w"><use href="#T" x="1113" y="1161"/></g><g id="l-t8" class="w"><use href="#T" x="1149" y="1161"/></g><g id="l-t9" class="w"><use href="#T" x="1186" y="1161"/></g>
<g id="l-t10" class="w"><use href="#T" x="964" y="1203"/></g><g id="l-s2" class="w"><use href="#S" x="995" y="1202"/></g><g id="l-s3" class="g"><use href="#S" x="1029" y="1202"/></g><g id="l-s4" class="g"><use href="#S" x="1077" y="1202"/></g><g id="l-s5" class="g"><use href="#S" x="1113" y="1202"/></g><g id="l-s6" class="g"><use href="#S" x="1150" y="1202"/></g><g id="l-s7" class="g"><use href="#S" x="1184" y="1202"/></g>
<g id="l-t11" class="w"><use href="#T" x="965" y="1252"/></g><g id="l-t12" class="w"><use href="#T" x="991" y="1252"/></g><g id="l-s8" class="g"><use href="#S" x="1018" y="1250"/></g><g id="l-s9" class="g"><use href="#S" x="1049" y="1250"/></g><g id="l-t13" class="w"><use href="#T" x="1077" y="1251"/></g><g id="l-t14" class="w"><use href="#T" x="1109" y="1251"/></g><g id="l-t15" class="w"><use href="#T" x="1139" y="1251"/></g><g id="l-t16" class="w"><use href="#T" x="1184" y="1251"/></g>
<g id="l-t17" class="w"><use href="#T" x="982" y="1297"/></g><g id="l-t18" class="w"><use href="#T" x="1016" y="1297"/></g><g id="l-t19" class="w"><use href="#T" x="1047" y="1297"/></g>
</g>

<g id="labels">
<text class="lbl" x="297" y="391">а)</text>
<text class="lbl" x="750" y="391">б)</text>
<text class="lbl" x="1062" y="391">в)</text>
<text class="lbl" x="130" y="1079">г)</text>
<text class="lbl" x="438" y="1079">д)</text>
<text class="lbl" x="760" y="1079">е)</text>
<text class="lbl" x="1075" y="1079">ж)</text>
<text class="lbl" x="130" y="1339">з)</text>
<text class="lbl" x="437" y="1339">и)</text>
<text class="lbl" x="760" y="1339">к)</text>
<text class="lbl" x="1075" y="1339">л)</text>
</g>
</svg>
